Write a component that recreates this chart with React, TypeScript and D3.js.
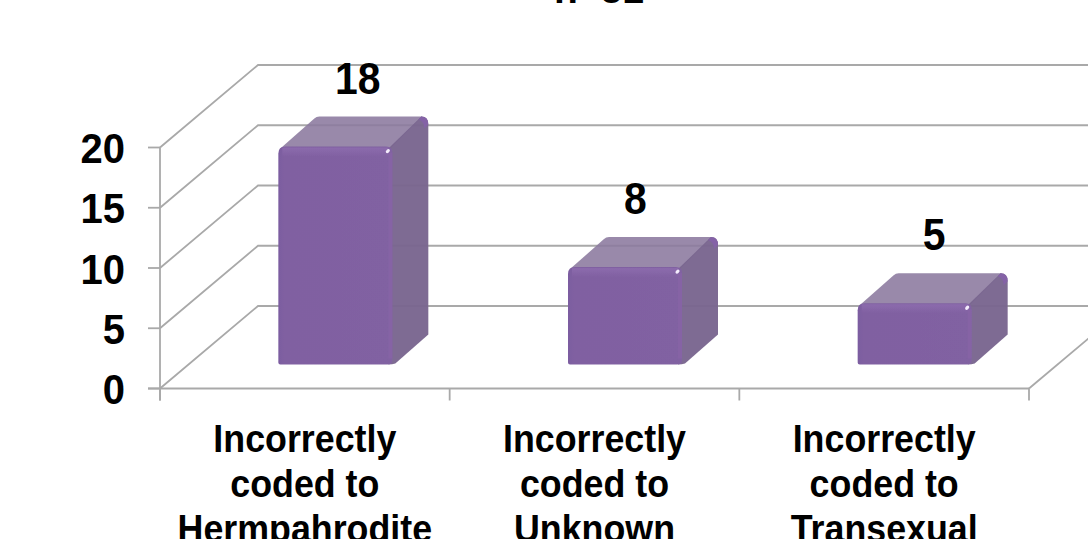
import React from "react";
import * as d3 from "d3";

const categories = ["Hermpahrodite", "Unknown", "Transexual"];
const counts = [18, 8, 5];
const valueTicks = [0, 5, 10, 15, 20];
const chartTitle = "n=31";
const categoryLinePrefix = ["Incorrectly", "coded to"];

const WIDTH = 1088;
const HEIGHT = 539;
const PLOT_LEFT = 160;
const PLOT_RIGHT = 1029;
const FLOOR_Y = 388.5;
const TOP_Y = 147.5;
// Projection of the chart's depth axis: full wall depth and the bar's depth.
const WALL_DX = 98;
const WALL_DY = -82.5;
const BAR_INSET_DX = 29;
const BAR_INSET_DY = -24;
const BAR_DX = 36;
const BAR_DY = -30;
const BAR_WIDTH = 114;
// Horizontal placement of each value label relative to its band centre.
const LABEL_SHIFT = [53, 41, 50];
// The typeface is set slightly narrow.
const NARROW = 0.93;

const x = d3.scaleBand<string>().domain(categories).range([PLOT_LEFT, PLOT_RIGHT]);
const y = d3.scaleLinear().domain([0, 20]).range([FLOOR_Y, TOP_Y]);

function NarrowText({ px, py, children, anchor }: { px: number; py: number; children: React.ReactNode; anchor?: string }) {
  return (
    <text transform={`translate(${px},${py}) scale(${NARROW},1)`} textAnchor={anchor ?? "middle"}>
      {children}
    </text>
  );
}

function Bar({ category, value }: { category: string; value: number }) {
  const left = (x(category) as number) + (x.bandwidth() - BAR_WIDTH) / 2 + BAR_INSET_DX + 1.5;
  const right = left + BAR_WIDTH;
  const bottom = y(0) + BAR_INSET_DY;
  const top = y(value) + BAR_INSET_DY - 1;
  const backTop = top + BAR_DY;
  const backRight = right + BAR_DX;
  const backLeft = left + BAR_DX;
  const r = 7;
  const front = `M${left},${top + r}Q${left},${top} ${left + r},${top}L${right - 6},${top}Q${right},${top} ${right},${top + 6}L${right},${bottom - 4}Q${right},${bottom} ${right - 5},${bottom}L${left + 2},${bottom}Q${left},${bottom} ${left},${bottom - 2}Z`;
  const side = `M${right - 4},${top + 2}L${backRight - 7},${backTop}Q${backRight},${backTop} ${backRight},${backTop + 8}L${backRight},${bottom + BAR_DY}L${right + 3},${bottom - 1}Q${right},${bottom} ${right - 4},${bottom}Z`;
  const lid = `M${left + 2},${top + 2}L${backLeft},${backTop + 2}Q${backLeft + 2},${backTop} ${backLeft + 5},${backTop}L${backRight - 6},${backTop}L${right - 2},${top + 2}Z`;
  const sideCap = `M${backRight - 7},${backTop}Q${backRight},${backTop} ${backRight},${backTop + 8}L${backRight - 4},${backTop + 12}Q${backRight - 4},${backTop + 5} ${backRight - 10},${backTop + 3}Z`;
  return (
    <g filter="url(#soft)">
      <path d={lid} fill="#8b7a9e" fillOpacity={0.88} />
      <path d={side} fill="#7a6690" fillOpacity={0.97} />
      <path d={sideCap} fill="#8462a6" />
      <path d={front} fill="url(#frontFace)" />
      <rect x={left + 4} y={top + 1} width={BAR_WIDTH - 8} height={9} fill="url(#frontShine)" />
      <rect x={right - 4} y={top + 6} width={4} height={bottom - top - 12} fill="#8765a6" fillOpacity={0.8} />
      <ellipse cx={right - 4.5} cy={top + 4.5} rx={2.4} ry={1.6} transform={`rotate(-45 ${right - 4.5} ${top + 4.5})`} fill="#f4ecfc" />
    </g>
  );
}

export default function App() {
  const textFont = '"Liberation Sans", Arial, sans-serif';
  const wallX = PLOT_LEFT + WALL_DX;
  const tickEnds = [...categories.map((c) => x(c) as number), PLOT_RIGHT];

  return (
    <svg
      width={WIDTH}
      height={HEIGHT}
      viewBox={`0 0 ${WIDTH} ${HEIGHT}`}
      style={{ position: "absolute", left: 0, top: 0, background: "#fff" }}
      fontFamily={textFont}
      fontWeight={700}
    >
      <defs>
        <filter id="soft" x="-5%" y="-5%" width="110%" height="110%">
          <feGaussianBlur stdDeviation="0.6" />
        </filter>
        <linearGradient id="frontFace" x1="0" x2="1" y1="0" y2="0">
          <stop offset="0" stopColor="#7b5ca0" />
          <stop offset="0.05" stopColor="#8060a1" />
          <stop offset="1" stopColor="#8162a2" />
        </linearGradient>
        <linearGradient id="frontShine" x1="0" x2="0" y1="0" y2="1">
          <stop offset="0" stopColor="#8c6bad" />
          <stop offset="1" stopColor="#8c6bad" stopOpacity={0} />
        </linearGradient>
      </defs>

      {/* Gridlines run along the side wall and then across the back wall */}
      <g fill="none" stroke="#a9a9a9" strokeWidth={1.8}>
        {valueTicks.map((t) => (
          <polyline
            key={t}
            points={`${PLOT_LEFT},${y(t)} ${wallX},${y(t) + WALL_DY} ${WIDTH},${y(t) + WALL_DY}`}
          />
        ))}
        {/* Floor front edge and the receding right edge */}
        <line x1={PLOT_LEFT - 12} x2={PLOT_RIGHT} y1={y(0)} y2={y(0)} />
        <line x1={PLOT_RIGHT} y1={y(0)} x2={PLOT_RIGHT + WALL_DX} y2={y(0) + WALL_DY} />
        <line x1={PLOT_LEFT} x2={PLOT_LEFT} y1={y(20)} y2={y(0) + 12} />
        {valueTicks.map((t) => (
          <line key={`tick-${t}`} x1={PLOT_LEFT - 12} x2={PLOT_LEFT} y1={y(t)} y2={y(t)} />
        ))}
        {tickEnds.map((p) => (
          <line key={`x-${p}`} x1={p} x2={p} y1={y(0)} y2={y(0) + 12} />
        ))}
      </g>

      {categories.map((c, i) => (
        <Bar key={c} category={c} value={counts[i]} />
      ))}

      {/* Value labels float above each bar's back edge */}
      <g fontSize={44} fill="#000">
        {categories.map((c, i) => (
          <NarrowText
            key={c}
            px={(x(c) as number) + x.bandwidth() / 2 + LABEL_SHIFT[i]}
            py={y(counts[i]) - 78}
          >
            {counts[i]}
          </NarrowText>
        ))}
      </g>

      <g fontSize={43} fill="#000">
        {valueTicks.map((t) => (
          <NarrowText key={t} px={125} py={y(t) + 15.5} anchor="end">
            {t}
          </NarrowText>
        ))}
      </g>

      <g fontSize={38.5} fill="#000">
        {categories.map((c) => {
          const cx = (x(c) as number) + x.bandwidth() / 2;
          return (
            <g key={c}>
              <NarrowText px={cx} py={451.5}>{categoryLinePrefix[0]}</NarrowText>
              <NarrowText px={cx} py={496.5}>{categoryLinePrefix[1]}</NarrowText>
              <NarrowText px={cx} py={541.5}>{c}</NarrowText>
            </g>
          );
        })}
      </g>

      <g fontSize={42} fill="#000">
        <NarrowText px={599} py={3}>{chartTitle}</NarrowText>
      </g>
    </svg>
  );
}
